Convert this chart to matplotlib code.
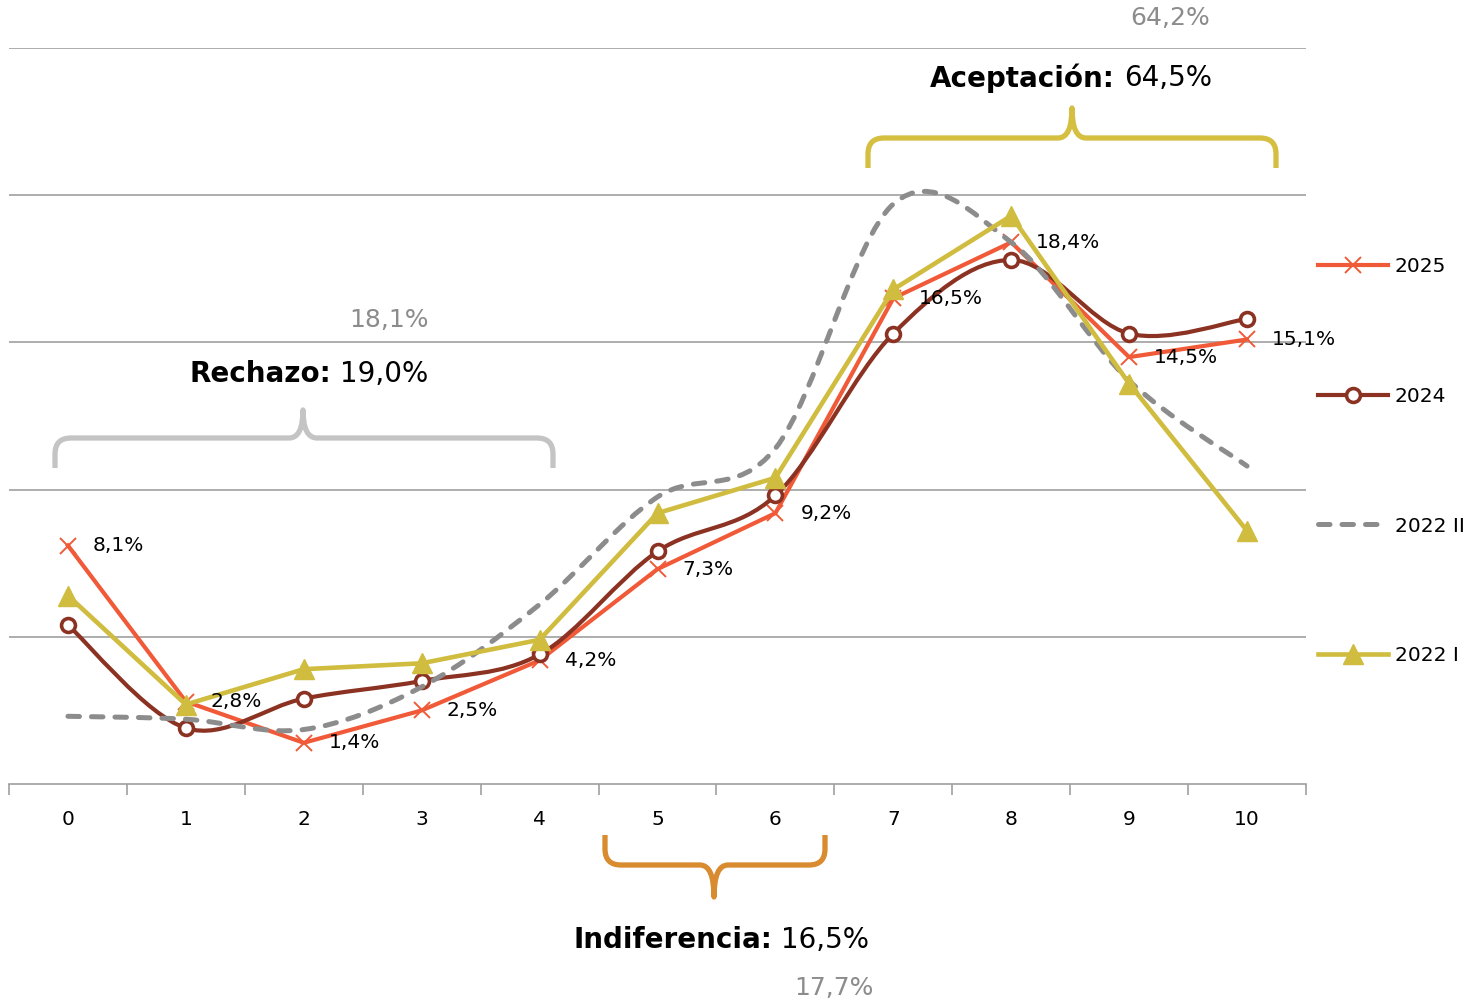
import numpy as np
import matplotlib
matplotlib.use("Agg")
import matplotlib.pyplot as plt
from matplotlib.path import Path
from matplotlib.patches import PathPatch
from matplotlib.lines import Line2D

plt.rcParams['font.family'] = ['DejaVu Sans']

categories = list(range(11))
s2025 = [8.1, 2.8, 1.4, 2.5, 4.2, 7.3, 9.2, 16.5, 18.4, 14.5, 15.1]
s2024 = [5.4, 1.9, 2.9, 3.5, 4.4, 7.9, 9.8, 15.3, 17.8, 15.3, 15.8]
s2022_2 = [2.3, 2.2, 1.85, 3.3, 6.1, 9.75, 11.4, 19.7, 18.4, 13.7, 10.8]
s2022_1 = [6.4, 2.7, 3.9, 4.1, 4.9, 9.2, 10.4, 16.8, 19.3, 13.6, 8.6]

# group name, share 2025, share 2024
groups = [
    ("Rechazo:", "19,0%", "18,1%"),
    ("Aceptación:", "64,5%", "64,2%"),
    ("Indiferencia:", "16,5%", "17,7%"),
]

C25 = '#F05A38'
C24 = '#8B3222'
C22_2 = '#8C8C8C'
C22_1 = '#D0BC3E'


def smooth_path(xs, ys):
    # Catmull-Rom style bezier through every point (like a "smoothed line")
    pts = np.column_stack([xs, ys]).astype(float)
    n = len(pts)
    verts = [pts[0]]
    codes = [Path.MOVETO]
    for i in range(n - 1):
        p0 = pts[max(i - 1, 0)]
        p1 = pts[i]
        p2 = pts[i + 1]
        p3 = pts[min(i + 2, n - 1)]
        verts += [p1 + (p2 - p0) / 6, p2 - (p3 - p1) / 6, p2]
        codes += [Path.CURVE4] * 3
    return Path(verts, codes)


W, H = 1467, 1002
fig = plt.figure(figsize=(W / 100, H / 100), dpi=100)
ax = fig.add_axes([9 / W, 1 - 784 / H, (1306 - 9) / W, (784 - 48) / H])

ax.set_xlim(-0.5, 10.5)
ax.set_ylim(0, 25)
ax.set_yticks([5, 10, 15, 20, 25])
ax.yaxis.grid(True, color='#A0A0A0', lw=1.2)
ax.set_axisbelow(True)
for sp in ['top', 'right', 'left']:
    ax.spines[sp].set_visible(False)
ax.spines['bottom'].set_color('#A0A0A0')
ax.spines['bottom'].set_linewidth(1.2)
ax.tick_params(axis='y', left=False, labelleft=False)
ax.set_xticks(categories)
ax.set_xticklabels([str(c) for c in categories], fontsize=14.5)
ax.set_xticks(np.arange(-0.5, 11, 1), minor=True)
ax.tick_params(axis='x', which='major', length=0, pad=19)
ax.tick_params(axis='x', which='minor', length=8, width=1.2, color='#A0A0A0')

dash = (0, (2.3, 2.4))

# 2025 - straight line with x markers
ax.plot(categories, s2025, color=C25, lw=3, marker='x', ms=12, mew=1.4, zorder=3)

# 2024 - smoothed with open circles
ax.add_patch(PathPatch(smooth_path(categories, s2024), fill=False, ec=C24, lw=3, zorder=4))
ax.plot(categories, s2024, ls='none', marker='o', ms=10, mfc='white', mec=C24, mew=2.6, zorder=4)

# 2022 II - smoothed dashed
ax.add_patch(PathPatch(smooth_path(categories, s2022_2), fill=False, ec=C22_2, lw=3.6,
                       ls=dash, capstyle='round', zorder=5))

# 2022 I - straight line with triangles
ax.plot(categories, s2022_1, color=C22_1, lw=3.3, marker='^', ms=14, zorder=6)

for x, v in zip(categories, s2025):
    ax.annotate(f"{v:.1f}%".replace('.', ','), xy=(x, v), xytext=(18, 0),
                textcoords='offset points', ha='left', va='center', fontsize=14.5, zorder=8)

handles = [
    Line2D([], [], color=C25, lw=3, marker='x', ms=12, mew=1.4),
    Line2D([], [], color=C24, lw=3, marker='o', ms=10, mfc='white', mec=C24, mew=2.6),
    Line2D([], [], color=C22_2, lw=3.6, ls=dash, dash_capstyle='round'),
    Line2D([], [], color=C22_1, lw=3.3, marker='^', ms=14),
]
fig.legend(handles, ['2025', '2024', '2022 II', '2022 I'], loc='upper left',
           bbox_to_anchor=(1318 / W, 1 - 257 / H), frameon=False, fontsize=14.5,
           handlelength=3.5, handletextpad=0.3, labelspacing=5.5, borderpad=0,
           borderaxespad=0, numpoints=1)

# overlay in pixel coordinates for braces and group totals
ov = fig.add_axes([0, 0, 1, 1], facecolor='none')
ov.set_xlim(0, W)
ov.set_ylim(H, 0)
ov.axis('off')


def brace(x0, x1, xm, y_end, y_bar, y_tip, color, r=16, rt=14):
    s = 1 if y_end > y_bar else -1
    verts = [(x0, y_end), (x0, y_bar + s * r), (x0, y_bar), (x0 + r, y_bar),
             (xm - rt, y_bar), (xm, y_bar), (xm, y_tip),
             (xm, y_bar), (xm + rt, y_bar),
             (x1 - r, y_bar), (x1, y_bar), (x1, y_bar + s * r), (x1, y_end)]
    codes = [Path.MOVETO, Path.LINETO, Path.CURVE3, Path.CURVE3,
             Path.LINETO, Path.CURVE3, Path.CURVE3,
             Path.CURVE3, Path.CURVE3,
             Path.LINETO, Path.CURVE3, Path.CURVE3, Path.LINETO]
    ov.add_patch(PathPatch(Path(verts, codes), fill=False, ec=color, lw=3.8,
                           capstyle='butt', joinstyle='round'))


def group_label(split_x, y, bold, value, y_prev, x_prev, prev):
    ov.text(split_x, y, bold, ha='right', va='center', fontsize=20, fontweight='bold')
    ov.text(split_x + 9, y, value, ha='left', va='center', fontsize=20)
    ov.text(x_prev, y_prev, prev, ha='center', va='center', fontsize=18, color='#8C8C8C')


brace(55, 553, 303, 468, 438, 410, '#C4C4C4')
brace(868, 1276, 1072, 168, 138, 108, '#D4BF40')
brace(605, 825, 714, 835, 865, 897, '#D98B30')

group_label(331, 374, groups[0][0], groups[0][1], 320, 389, groups[0][2])
group_label(1115, 78, groups[1][0], groups[1][1], 18, 1170, groups[1][2])
group_label(772, 940, groups[2][0], groups[2][1], 988, 834, groups[2][2])

fig.savefig('out.png', dpi=100)
